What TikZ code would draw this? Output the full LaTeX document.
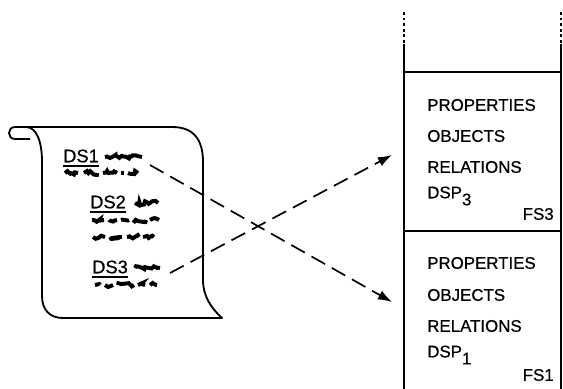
\documentclass[tikz,border=0pt]{standalone}
\usepackage{fontspec}
\setmainfont{Liberation Sans}[FakeBold=0.6]
\usetikzlibrary{arrows.meta,decorations.pathmorphing}
\tikzset{
  paper/.style={line width=1.3pt, line join=round},
  stack/.style={line width=1.3pt},
  txt/.style={anchor=west, inner sep=0pt, font=\fontsize{12}{14}\selectfont},
  dslabel/.style={anchor=west, inner sep=0pt, font=\fontsize{13}{15}\selectfont},
  uline/.style={line width=1.1pt},
  scrib/.style={line width=2.8pt, decorate, decoration={random steps, segment length=1.6pt, amplitude=1.5pt}},
  link/.style={line width=1.2pt, dash pattern=on 11pt off 5.5pt, -{Latex[length=10pt,width=7pt]}},
}
\begin{document}
\begin{tikzpicture}[x=0.025cm, y=-0.025cm]
\useasboundingbox (0,0) rectangle (563,388);
\pgfmathsetseed{7}
% the written sheet
\draw[paper] (27,127) -- (172,127) .. controls (194,127) and (203,140) .. (203,162)
  -- (203,280) .. controls (203,296) and (211,308) .. (222,318) -- (63,318)
  .. controls (50,318) and (42,310) .. (42,296) -- (42,162)
  .. controls (42,140) and (36,128) .. (27,127) -- (15,127)
  .. controls (7,127) and (7,139) .. (15,139) -- (30,139);
\node[dslabel] (ds1) at (63,156) {DS1};
\node[dslabel] (ds2) at (90,202) {DS2};
\node[dslabel] (ds3) at (92,267) {DS3};
\foreach \n in {ds1,ds2,ds3}
  \draw[uline] ([yshift=-2.2pt]\n.south west) -- ([yshift=-2.2pt]\n.south east);
\foreach \a/\b/\y in {105/142/157, 65/78/173, 84/97/173, 103/117/173, 121/124/173, 128/138/173,
                      135/158/203, 92/104/220, 109/117/220, 121/129/220, 133/146/220, 150/159/220,
                      93/105/237, 110/122/237, 127/139/237, 143/154/237,
                      135/160/268, 95/100/285, 105/113/285, 118/134/285, 138/145/285, 150/157/285}
  \draw[scrib] (\a,\y) -- (\b,\y);
% the frame stack
\coordinate (tl) at (404,12);
\coordinate (tr) at (561,12);
\coordinate (ml) at (404,44);
\coordinate (mr) at (561,44);
\coordinate (bl) at (404,390);
\coordinate (br) at (561,390);
\draw[stack, dash pattern=on 2pt off 2pt] (tl) -- (ml) (tr) -- (mr);
\draw[stack] (ml) -- (bl) (mr) -- (br);
\draw[stack] (404,72) -- (561,72) (404,231) -- (561,231);
% frame FS3
\node[txt] (p3) at (427,105) {PROPERTIES};
\node[txt] (o3) at (427,136) {OBJECTS};
\node[txt] (r3) at (427,167) {RELATIONS};
\node[txt] (d3) at (427,196) {DSP\raisebox{-5pt}{3}};
\node[txt, anchor=east] (fs3) at (554,214) {FS3};
% frame FS1
\node[txt] (p1) at (427,263) {PROPERTIES};
\node[txt] (o1) at (427,295) {OBJECTS};
\node[txt] (r1) at (427,326) {RELATIONS};
\node[txt] (d1) at (427,355) {DSP\raisebox{-5pt}{1}};
\node[txt, anchor=east] (fs1) at (554,375) {FS1};
% links
\coordinate (ds1tail) at (150,165);
\coordinate (ds3tail) at (170,273);
\coordinate (fs3in) at (392,155);
\coordinate (fs1in) at (392,302);
\draw[link] (ds1tail) -- (fs1in);
\draw[link] (ds3tail) -- (fs3in);
\end{tikzpicture}
\end{document}
